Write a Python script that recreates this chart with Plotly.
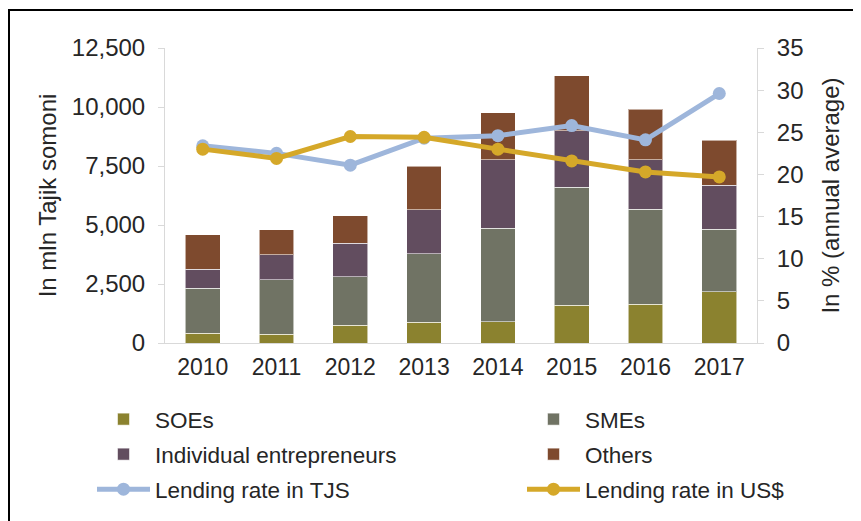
import plotly.graph_objects as go

years = ["2010", "2011", "2012", "2013", "2014", "2015", "2016", "2017"]
soes = [420, 380, 760, 890, 910, 1600, 1650, 2170]
smes = [1890, 2290, 2050, 2900, 3950, 5000, 4020, 2660]
indiv = [820, 1060, 1420, 1850, 2910, 2400, 2100, 1850]
others = [1460, 1060, 1170, 1850, 1990, 2320, 2140, 1910]
rate_tjs = [23.4, 22.5, 21.1, 24.3, 24.6, 25.8, 24.1, 29.6]
rate_usd = [23.0, 21.9, 24.5, 24.4, 23.0, 21.6, 20.3, 19.7]

left_ticks = [0, 2500, 5000, 7500, 10000, 12500]
right_ticks = [0, 5, 10, 15, 20, 25, 30, 35]

FONT = "Liberation Sans, Arial, sans-serif"
TXT = "#262626"
AX = "#D9D9D9"

fig = go.Figure()
bar_specs = [
    ("SOEs", soes, "#8B822F", "legend"),
    ("SMEs", smes, "#707364", "legend2"),
    ("Individual entrepreneurs", indiv, "#624D5F", "legend"),
    ("Others", others, "#7E4A2E", "legend2"),
]
for name, vals, col, lg in bar_specs:
    fig.add_trace(go.Bar(
        x=years, y=vals, name=name, legend=lg, legendgroup=name,
        marker=dict(color=col, line=dict(color="rgba(255,255,255,0.55)", width=1)),
        width=0.47,
    ))

fig.add_trace(go.Scatter(
    x=years, y=rate_tjs, name="Lending rate in TJS", yaxis="y2", legend="legend",
    legendgroup="tjs", mode="lines+markers",
    line=dict(color="#9EB6DB", width=5), marker=dict(size=13, color="#9EB6DB"),
))
fig.add_trace(go.Scatter(
    x=years, y=rate_usd, name="Lending rate in US$", yaxis="y2", legend="legend2",
    legendgroup="usd", mode="lines+markers",
    line=dict(color="#D5A829", width=5), marker=dict(size=13, color="#D5A829"),
))

# page body has an 8px margin, so the figure is drawn in screen coords minus 8
OFF = 8
W, H = 861 - OFF, 521 - OFF
L, T = 165 - OFF, 48 - OFF
pw, ph = 592, 295
R, B = W - L - pw, H - T - ph

def px2x(p):
    return (p - OFF - L) / pw

def py2y(p):
    return (T + ph - (p - OFF)) / ph

legend_common = dict(
    orientation="v", xanchor="left", yanchor="top",
    font=dict(family=FONT, size=22.5, color=TXT),
    bgcolor="rgba(0,0,0,0)", tracegroupgap=2.75, itemwidth=53,
    traceorder="grouped",
)

fig.update_layout(
    width=W, height=H,
    margin=dict(l=L, r=R, t=T, b=B, autoexpand=False),
    paper_bgcolor="white", plot_bgcolor="white",
    barmode="stack",
    font=dict(family=FONT, size=22, color=TXT),
    xaxis=dict(
        showline=True, linecolor=AX, linewidth=1, ticks="", showgrid=False,
        tickfont=dict(size=23, color=TXT), ticklabelstandoff=3,
    ),
    yaxis=dict(
        range=[0, 12500], tickvals=left_ticks, tickformat=",d",
        showline=True, linecolor=AX, linewidth=1, ticks="outside", ticklen=6,
        tickcolor=AX, showgrid=False, zeroline=False,
        tickfont=dict(size=24, color=TXT), ticklabelstandoff=8,
        title=dict(text="In mln Tajik somoni", font=dict(size=24, color=TXT), standoff=8),
    ),
    yaxis2=dict(
        range=[0, 35], tickvals=right_ticks, overlaying="y", side="right",
        showline=True, linecolor=AX, linewidth=1, ticks="outside", ticklen=6,
        tickcolor=AX, showgrid=False, zeroline=False,
        tickfont=dict(size=24, color=TXT), ticklabelstandoff=8,
        title=dict(text="In % (annual average)", font=dict(size=24, color=TXT), standoff=19),
    ),
    legend=dict(x=px2x(92), y=py2y(398), **legend_common),
    legend2=dict(x=px2x(522), y=py2y(398), **legend_common),
    shapes=[
        dict(type="line", xref="paper", yref="paper",
             x0=px2x(8), x1=px2x(863), y0=py2y(10), y1=py2y(10),
             line=dict(color="black", width=2)),
        dict(type="line", xref="paper", yref="paper",
             x0=px2x(9), x1=px2x(9), y0=py2y(10), y1=py2y(523),
             line=dict(color="black", width=2)),
    ],
    showlegend=True,
)

fig.write_html("out.html")
